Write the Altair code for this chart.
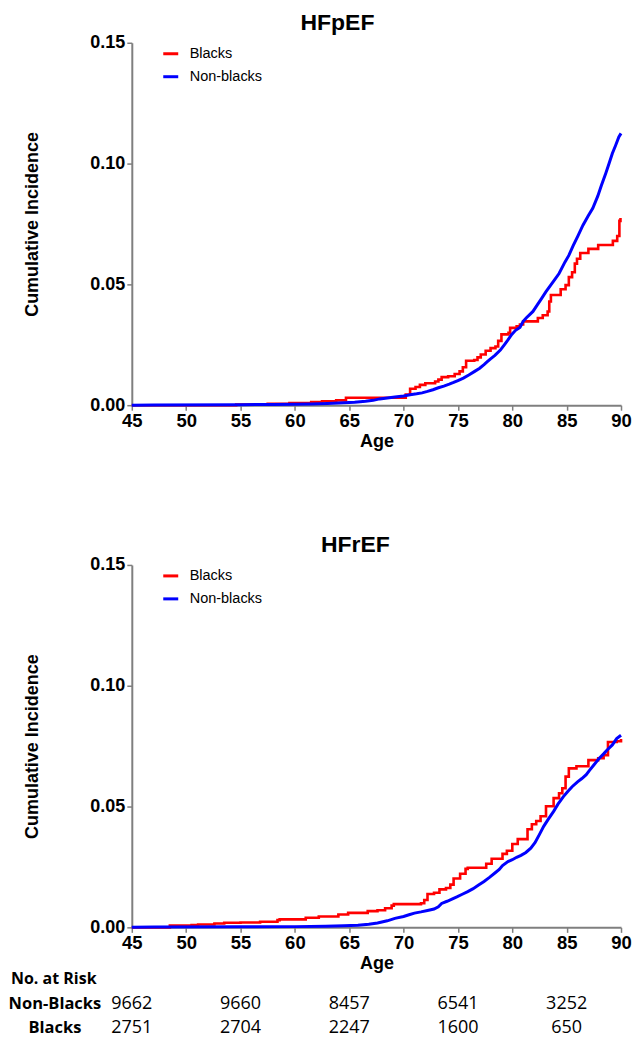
import altair as alt
import pandas as pd

groups = ["Blacks", "Non-blacks"]
colors = ["#ff0000", "#0000ff"]

# ---------------- HFpEF ----------------
hfpef_black_age = [45, 54.6, 57.5, 59.5, 61.5, 62.5, 63.8, 64.7, 70.2, 70.6, 71.1, 71.5, 72.0, 72.9,
                   73.2, 73.5, 74.1, 74.7, 75.15, 75.45, 75.75, 76.5, 76.8, 77.1, 77.55, 78.0, 78.45,
                   78.7, 79.0, 79.65, 79.8, 80.4, 80.7, 81.0, 82.35, 82.8, 83.25, 83.4, 83.55, 84.45,
                   84.9, 85.2, 85.5, 85.75, 85.95, 86.25, 87.0, 87.9, 89.25, 89.65, 89.85, 89.95]
hfpef_black_ci = [0, 0.0003, 0.0006, 0.0009, 0.0013, 0.0016, 0.002, 0.0031, 0.0044, 0.0068, 0.0075,
                  0.0084, 0.0091, 0.0098, 0.0106, 0.0116, 0.012, 0.0129, 0.014, 0.0157, 0.0184, 0.0187,
                  0.0198, 0.021, 0.0225, 0.0236, 0.0243, 0.0266, 0.0293, 0.03, 0.032, 0.0327, 0.0334,
                  0.0347, 0.0361, 0.0372, 0.0388, 0.0429, 0.0456, 0.048, 0.0497, 0.053, 0.055, 0.0586,
                  0.0606, 0.063, 0.0647, 0.0663, 0.068, 0.070, 0.0763, 0.0775]

hfpef_nonblack_age = [45, 47, 55, 58, 60, 61.5, 63, 64.5, 65.5, 66.5, 67.2, 67.8, 68.5, 69.2, 70, 70.6,
                      71.2, 71.7, 72.2, 72.7, 73.2, 73.7, 74.2, 74.6, 75.0, 75.5, 76.0, 76.5, 77.0,
                      77.4, 77.7, 78.0, 78.4, 78.9, 79.3, 79.6, 79.95, 80.3, 80.7, 81.0, 81.3, 81.6,
                      81.9, 82.3, 82.7, 83.1, 83.5, 83.9, 84.3, 84.85, 85.2, 85.6, 86.05, 86.5, 87.0,
                      87.4, 87.86, 88.2, 88.6, 88.9, 89.2, 89.5, 89.8, 90]
hfpef_nonblack_ci = [0, 0.0001, 0.0002, 0.0003, 0.0004, 0.0005, 0.0007, 0.001, 0.0012, 0.0016, 0.002,
                     0.0026, 0.003, 0.0034, 0.0038, 0.0043, 0.0047, 0.0051, 0.0057, 0.0064, 0.0072,
                     0.0079, 0.0087, 0.0094, 0.0102, 0.0112, 0.0125, 0.0139, 0.0153, 0.0168, 0.018,
                     0.0192, 0.0206, 0.0228, 0.0252, 0.027, 0.0293, 0.031, 0.0322, 0.0347, 0.0362,
                     0.0375, 0.0388, 0.0415, 0.0442, 0.047, 0.0495, 0.052, 0.0545, 0.0593, 0.062,
                     0.066, 0.0702, 0.0745, 0.0785, 0.0815, 0.0865, 0.091, 0.096, 0.1, 0.1042, 0.1075,
                     0.111, 0.1125]

# ---------------- HFrEF ----------------
hfref_black_age = [45, 48.5, 50.5, 51.1, 52.6, 53.5, 55.0, 56.8, 58.4, 58.6, 61.0, 62.2, 64.0, 64.9,
                   66.7, 67.6, 68.3, 68.9, 69.1, 71.6, 71.9, 72.2, 72.8, 73.3, 73.9, 74.3, 74.6, 75.2,
                   75.7, 75.9, 77.6, 78.1, 79.1, 79.5, 80.0, 80.5, 81.4, 81.8, 82.2, 82.6, 83.1, 83.8,
                   84.3, 84.6, 84.9, 85.2, 85.9, 87.0, 87.9, 88.4, 88.8, 89.6, 90]
hfref_black_ci = [0, 0.0007, 0.001, 0.0012, 0.0016, 0.0019, 0.002, 0.0023, 0.003, 0.0033, 0.004,
                  0.0045, 0.0053, 0.006, 0.0067, 0.0071, 0.0079, 0.009, 0.0096, 0.01, 0.0113, 0.0138,
                  0.0143, 0.0157, 0.0163, 0.0177, 0.0202, 0.0222, 0.0242, 0.0247, 0.0263, 0.0284,
                  0.0304, 0.0317, 0.0345, 0.0365, 0.0406, 0.0427, 0.044, 0.046, 0.0501, 0.0535,
                  0.0555, 0.0576, 0.0624, 0.0658, 0.0667, 0.0692, 0.07, 0.0713, 0.0767, 0.077, 0.078]

hfref_nonblack_age = [45, 47, 55, 60, 62.8, 64.5, 65.8, 66.8, 67.6, 68.5, 69.2, 70.0, 70.5, 71.0, 71.6,
                      72.2, 72.8, 73.2, 73.5, 74.0, 74.5, 74.9, 75.4, 75.9, 76.4, 76.9, 77.4, 77.9,
                      78.4, 78.8, 79.1, 79.6, 80.0, 80.4, 80.8, 81.25, 81.7, 82.1, 82.5, 82.9, 83.3,
                      83.8, 84.2, 84.7, 85.1, 85.5, 86.0, 86.4, 86.8, 87.1, 87.5, 88.0, 88.4, 88.7,
                      89.2, 89.6, 90]
hfref_nonblack_ci = [0, 0.0001, 0.0002, 0.0003, 0.0005, 0.0007, 0.0009, 0.0013, 0.0018, 0.0027, 0.0037,
                     0.0045, 0.0052, 0.0059, 0.0064, 0.007, 0.0076, 0.0085, 0.0099, 0.0108, 0.0118,
                     0.0126, 0.0137, 0.0148, 0.016, 0.0175, 0.019, 0.0207, 0.0225, 0.024, 0.0256,
                     0.0272, 0.028, 0.029, 0.0298, 0.031, 0.0328, 0.0351, 0.0385, 0.0419, 0.0447,
                     0.048, 0.051, 0.0541, 0.0562, 0.0582, 0.0602, 0.0616, 0.0632, 0.065, 0.0672,
                     0.07, 0.0718, 0.0733, 0.0755, 0.0781, 0.0795]

# ---------------- Number at risk ----------------
risk_ages = [45, 55, 65, 75, 85]
risk_nonblacks = [9662, 9660, 8457, 6541, 3252]
risk_blacks = [2751, 2704, 2247, 1600, 650]
risk_header = "No. at Risk"
risk_row_labels = ["Non-Blacks", "Blacks"]

panel_titles = ["HFpEF", "HFrEF"]
x_ticks = [45, 50, 55, 60, 65, 70, 75, 80, 85, 90]
y_ticks = [0.0, 0.05, 0.10, 0.15]

AX_FONT = "Liberation Sans"
TBL_FONT = "Open Sans"
W, H = 490, 363

color_enc = alt.Color(
    "group:N", scale=alt.Scale(domain=groups, range=colors),
    legend=alt.Legend(orient="none", legendX=30, legendY=2, title=None,
                      symbolType="stroke", symbolSize=225, symbolStrokeWidth=3,
                      labelFont=AX_FONT, labelFontSize=14.5, labelColor="black",
                      labelOffset=10, rowPadding=7, padding=0))


def panel(b_age, b_ci, n_age, n_ci, title, title_x):
    x_axis = alt.Axis(title="Age", values=x_ticks, format="d", grid=False,
                      labelFont=AX_FONT, labelFontWeight="bold", labelFontSize=18.5,
                      labelColor="black", labelFlush=False, labelOverlap=False,
                      labelPadding=1, titleFont=AX_FONT, titleFontWeight="bold",
                      titleFontSize=18, titleColor="black", titlePadding=3,
                      domainColor="#7f7f7f", domainWidth=2, tickColor="#7f7f7f",
                      tickWidth=1.5, tickSize=5)
    y_axis = alt.Axis(title="Cumulative Incidence", values=y_ticks, format=".2f", grid=False,
                      labelFont=AX_FONT, labelFontWeight="bold", labelFontSize=18,
                      labelColor="black", labelFlush=False, labelOverlap=False,
                      labelPadding=2, titleFont=AX_FONT, titleFontWeight="bold",
                      titleFontSize=18, titleColor="black", titlePadding=48,
                      domainColor="#7f7f7f", domainWidth=2, tickColor="#7f7f7f",
                      tickWidth=1.5, tickSize=5)
    xs = alt.X("age:Q", scale=alt.Scale(domain=[45, 90], nice=False, zero=False), axis=x_axis)
    ys = alt.Y("ci:Q", scale=alt.Scale(domain=[0, 0.15], nice=False), axis=y_axis)
    black_df = pd.DataFrame({"age": b_age, "ci": b_ci, "group": groups[0]})
    nonblack_df = pd.DataFrame({"age": n_age, "ci": n_ci, "group": groups[1]})
    red = alt.Chart(black_df).mark_line(interpolate="step-after", strokeWidth=2.6).encode(
        x=xs, y=ys, color=color_enc)
    blue = alt.Chart(nonblack_df).mark_line(interpolate="linear", strokeWidth=3).encode(
        x=xs, y=ys, color=color_enc)
    ttl = alt.Chart(pd.DataFrame({"t": [title]})).mark_text(
        font=AX_FONT, fontWeight="bold", fontSize=23, color="black", align="center",
        baseline="alphabetic"
    ).encode(x=alt.value(title_x), y=alt.value(-13), text="t:N")
    return alt.layer(red, blue, ttl).properties(width=W, height=H)


top = panel(hfpef_black_age, hfpef_black_ci, hfpef_nonblack_age, hfpef_nonblack_ci,
            panel_titles[0], 206)
bottom_lines = panel(hfref_black_age, hfref_black_ci, hfref_nonblack_age, hfref_nonblack_ci,
                     panel_titles[1], 224)

row_y = [H + 77, H + 101]
head_y = H + 52

table_layers = []
for label, values, yy in zip(risk_row_labels, [risk_nonblacks, risk_blacks], row_y):
    nums = alt.Chart(pd.DataFrame({"age": risk_ages, "n": values})).mark_text(
        font=TBL_FONT, fontSize=18, color="black", align="center", baseline="middle"
    ).encode(x="age:Q", y=alt.value(yy), text="n:Q")
    lab = alt.Chart(pd.DataFrame({"row": [label]})).mark_text(
        font=TBL_FONT, fontSize=16.5, fontWeight="bold", color="black", align="center",
        baseline="middle"
    ).encode(x=alt.value(-77), y=alt.value(yy), text="row:N")
    table_layers += [nums, lab]

head = alt.Chart(pd.DataFrame({"label": [risk_header]})).mark_text(
    font=TBL_FONT, fontSize=16, fontWeight="bold", color="black", align="left", baseline="middle"
).encode(x=alt.value(-121), y=alt.value(head_y), text="label:N")

bottom = alt.layer(bottom_lines, *table_layers, head)

chart = alt.vconcat(top, bottom, spacing=160, bounds="flush").resolve_scale(
    color="independent").resolve_legend(color="independent").configure(
    padding={"top": 3, "left": 0, "right": 0, "bottom": 0}).configure_view(stroke=None)

chart.save("out.html", embed_options={"renderer": "svg", "actions": False})
